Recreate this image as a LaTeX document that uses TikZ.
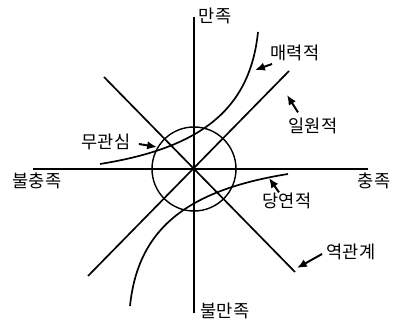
\documentclass[tikz,border=0pt]{standalone}
\usepackage{fontspec}
\setmainfont{Noto Sans CJK KR}
\usepackage{tikz}
\usetikzlibrary{arrows.meta}

\begin{document}
\begin{tikzpicture}[x=0.025cm,y=-0.025cm,>=Stealth,
  axis/.style={line width=1.2pt},
  lbl/.style={font=\fontsize{12.5}{14}\selectfont,inner sep=1pt},
  pointer/.style={-{Latex[length=7pt,width=6pt]},line width=1.4pt}]
\useasboundingbox (0,0) rectangle (394,320);
% axes
\coordinate (N) at (194,17); \coordinate (S) at (194,313);
\coordinate (W) at (33,169); \coordinate (E) at (368,169);
\draw[axis] (N) -- (S);
\draw[axis] (W) -- (E);
% diagonals and circle
\draw[axis] (88,276) -- (289,71);
\draw[axis] (104,77) -- (295,272);
\draw[line width=1pt] (194,169) circle[radius=1.05cm];
% curves
\draw[axis] (100,164) .. controls (200,148) and (250,110) .. (258,32);
\draw[axis] (288,174) .. controls (188,190) and (138,228) .. (130,306);
% axis labels
\node[lbl] (sat) at (215,16) {만족};
\node[lbl] (dissat) at (225,311) {불만족};
\node[lbl] (unful) at (37,181) {불충족};
\node[lbl] (ful) at (374,181) {충족};
% quality labels
\node[lbl] (attr) at (295,53) {매력적};
\node[lbl] (onedim) at (313,126) {일원적};
\node[lbl] (indiff) at (106,142) {무관심};
\node[lbl] (mustbe) at (287,201) {당연적};
\node[lbl] (reverse) at (351,252) {역관계};
% pointers
\coordinate (hAttr) at (255,70);
\coordinate (hOnedim) at (287,95);
\coordinate (hIndiff) at (157,147);
\coordinate (hMustbe) at (269,178);
\coordinate (hReverse) at (297,268);
\draw[pointer] ([shift={(3,11)}]attr.west) -- (hAttr);
\draw[pointer] ([shift={(-15,-4)}]onedim.north) -- (hOnedim);
\draw[pointer] ([shift={(7,2)}]indiff.east) -- (hIndiff);
\draw[pointer] ([shift={(-8,1)}]mustbe.north) -- (hMustbe);
\draw[pointer] ([shift={(-3,2)}]reverse.west) -- (hReverse);
\end{tikzpicture}
\end{document}
